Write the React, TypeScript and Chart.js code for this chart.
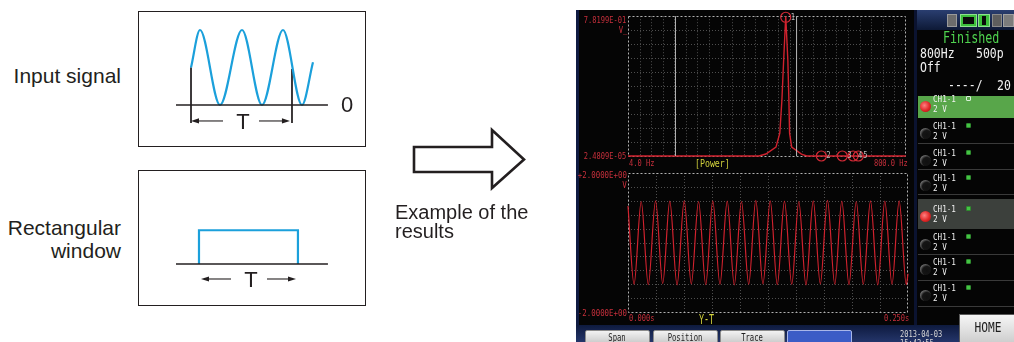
import React, { useEffect, useRef } from "react";
import { Chart, registerables } from "chart.js";
Chart.register(...registerables);

const W = 1014;
const H = 342;
const SANS = '"Liberation Sans", Arial, Helvetica, sans-serif';
const MONO = '"DejaVu Sans Mono", monospace';
const INK = "#231f20";
const BLUE = "#1ba0db";
const SCREEN_RED = "#d0222e";
const LABEL_RED = "#c8303c";
const YELLOW = "#d2d23c";

// ---------- left diagrams (x in units of the window length T, y in signal units) ----------
const signalX = [0, 0.089, 0.287, 0.505, 0.703, 0.911, 1.099, 1.208];
const signalY = [0.5, 1, 0, 1, 0, 1, 0, 0.57];
const baselineX = [-0.149, 1.356];
const periodMarkX = [0, 1];
const periodMarkTop = [0.5, 0.48];
const periodMarkBottom = -0.24;
const windowX = [0.079, 0.079, 1.059, 1.059];
const windowY = [0, 0.45, 0.45, 0];
const topArrows = [[0.317, 0], [0.673, 0.98]]; // [tail, head]
const topArrowY = -0.213;
const bottomArrows = [[0.396, 0.099], [0.752, 1.04]];
const bottomArrowY = -0.2;
const diagramXRange = [-0.525, 1.733];
const diagramYRange = [-0.56, 1.253];

// ---------- power spectrum ----------
const specFreq = [4, 379, 399, 428, 439, 445, 450, 456, 462, 465, 467, 473, 501, 516, 800];
const specPower = [2.4809e-5, 2.4809e-5, 0.011, 0.05, 0.128, 0.313, 0.536, 0.78199, 0.536, 0.313, 0.128, 0.05, 0.011, 2.4809e-5, 2.4809e-5];
const freqRange = [4, 800];
const powerRange = [2.4809e-5, 0.78199];
const markerFreq = [456, 558, 618, 649, 664];
const markerPower = [0.776, 2.4809e-5, 2.4809e-5, 2.4809e-5, 2.4809e-5];
const markerNames = ["1", "2", "3", "4", "5"];
const cursorFreq = [140, 487];
const powerTickLabels = ["7.8199E-01", "2.4809E-05"];
const freqTickLabels = ["4.0 Hz", "800.0 Hz"];

// ---------- time waveform ----------
const timeS = [0, 0.0054, 0.0118, 0.0181, 0.0246, 0.031, 0.0373, 0.0438, 0.0502, 0.0565, 0.063, 0.0694, 0.0757, 0.0821, 0.0886, 0.0949, 0.1013, 0.1078, 0.1141, 0.1205, 0.127, 0.1333, 0.1397, 0.1462, 0.1525, 0.1589, 0.1654, 0.1717, 0.1781, 0.1846, 0.1909, 0.1973, 0.2038, 0.2101, 0.2165, 0.223, 0.2293, 0.2357, 0.2421, 0.2485, 0.25];
const voltV = [1.05, -1.2, 1.18, -1.21, 1.2, -1.18, 1.19, -1.22, 1.2, -1.19, 1.18, -1.21, 1.2, -1.2, 1.19, -1.22, 1.18, -1.2, 1.21, -1.19, 1.2, -1.21, 1.19, -1.2, 1.18, -1.22, 1.2, -1.19, 1.21, -1.2, 1.19, -1.21, 1.18, -1.2, 1.2, -1.22, 1.19, -1.2, 1.2, -1.21, -0.9];
const timeRange = [0, 0.25];
const voltRange = [-2, 2];
const voltTickLabels = ["+2.0000E+00", "-2.0000E+00"];
const timeTickLabels = ["0.000s", "0.250s"];

// ---------- side panel ----------
const channelNames = ["CH1-1", "CH1-1", "CH1-1", "CH1-1", "CH1-1", "CH1-1", "CH1-1", "CH1-1"];
const channelRanges = ["2 V", "2 V", "2 V", "2 V", "2 V", "2 V", "2 V", "2 V"];
const buttonLabels = ["Span", "Position", "Trace", ""];

type Cfg = any;

function ChartCanvas({ left, top, width, height, make }: { left: number; top: number; width: number; height: number; make: () => Cfg }) {
  const ref = useRef<HTMLCanvasElement>(null);
  useEffect(() => {
    const chart = new Chart(ref.current as HTMLCanvasElement, make());
    return () => chart.destroy();
  }, []);
  return (
    <canvas
      ref={ref}
      width={width}
      height={height}
      style={{ position: "absolute", left, top, width, height }}
    />
  );
}

const lineDs = (data: any[], color: string, width: number, extra: any = {}) => ({
  type: "line",
  data,
  borderColor: color,
  backgroundColor: color,
  borderWidth: width,
  pointRadius: 0,
  fill: false,
  tension: 0,
  clip: false,
  ...extra,
});

function arrowPlugin(list: number[][], yv: number) {
  return {
    id: "arrows",
    afterDatasetsDraw(chart: any) {
      const { ctx, scales } = chart;
      const yy = scales.y.getPixelForValue(yv);
      ctx.save();
      ctx.strokeStyle = INK;
      ctx.fillStyle = INK;
      ctx.lineWidth = 1.1;
      for (const [tail, head] of list) {
        const x0 = scales.x.getPixelForValue(tail);
        const x1 = scales.x.getPixelForValue(head);
        const d = Math.sign(x1 - x0);
        ctx.beginPath();
        ctx.moveTo(x0, yy);
        ctx.lineTo(x1 - d * 6, yy);
        ctx.stroke();
        ctx.beginPath();
        ctx.moveTo(x1, yy);
        ctx.lineTo(x1 - d * 8, yy - 2.6);
        ctx.lineTo(x1 - d * 8, yy + 2.6);
        ctx.closePath();
        ctx.fill();
      }
      ctx.restore();
    },
  };
}

function diagramConfig(kind: "signal" | "window"): Cfg {
  const datasets: any[] = [lineDs(baselineX.map((x) => ({ x, y: 0 })), INK, 1.3)];
  if (kind === "signal") {
    datasets.push(
      lineDs(signalX.map((x, i) => ({ x, y: signalY[i] })), BLUE, 2.2, { cubicInterpolationMode: "monotone" })
    );
    periodMarkX.forEach((x, i) =>
      datasets.push(lineDs([{ x, y: periodMarkTop[i] }, { x, y: periodMarkBottom }], INK, 1))
    );
  } else {
    datasets.push(lineDs(windowX.map((x, i) => ({ x, y: windowY[i] })), BLUE, 2.2));
  }
  return {
    type: "line",
    data: { datasets },
    options: {
      animation: false,
      responsive: false,
      events: [],
      layout: { padding: 0 },
      plugins: { legend: { display: false }, tooltip: { enabled: false } },
      scales: {
        x: { type: "linear", display: false, min: diagramXRange[0], max: diagramXRange[1] },
        y: { type: "linear", display: false, min: diagramYRange[0], max: diagramYRange[1] },
      },
    },
    plugins: [kind === "signal" ? arrowPlugin(topArrows, topArrowY) : arrowPlugin(bottomArrows, bottomArrowY)],
  };
}

function screenFramePlugin(cols: number, rows: number) {
  return {
    id: "screenFrame",
    beforeDatasetsDraw(chart: any) {
      const { ctx, chartArea: a } = chart;
      ctx.save();
      ctx.lineWidth = 1;
      ctx.strokeStyle = "#4e4e4e";
      ctx.setLineDash([1, 2]);
      for (let i = 1; i < cols; i++) {
        const x = Math.round(a.left + ((a.right - a.left) * i) / cols) + 0.5;
        ctx.beginPath();
        ctx.moveTo(x, a.top);
        ctx.lineTo(x, a.bottom);
        ctx.stroke();
      }
      for (let j = 1; j < rows; j++) {
        const y = Math.round(a.top + ((a.bottom - a.top) * j) / rows) + 0.5;
        ctx.beginPath();
        ctx.moveTo(a.left, y);
        ctx.lineTo(a.right, y);
        ctx.stroke();
      }
      ctx.strokeStyle = "#b0b0b0";
      ctx.setLineDash([2, 2]);
      ctx.strokeRect(Math.round(a.left) + 0.5, Math.round(a.top) + 0.5, Math.round(a.right - a.left) - 1, Math.round(a.bottom - a.top));
      ctx.restore();
    },
  };
}

const markerLabelPlugin = {
  id: "markerLabels",
  afterDatasetsDraw(chart: any) {
    const { ctx } = chart;
    const idx = chart.data.datasets.findIndex((d: any) => d.label === "markers");
    if (idx < 0) return;
    const meta = chart.getDatasetMeta(idx);
    ctx.save();
    ctx.fillStyle = "#bdbdbd";
    ctx.font = '9px "DejaVu Sans Mono", monospace';
    ctx.textBaseline = "middle";
    meta.data.forEach((pt: any, i: number) => {
      ctx.save();
      ctx.translate(pt.x + 5, pt.y);
      ctx.scale(0.8, 1);
      ctx.fillText(markerNames[i], 0, 0);
      ctx.restore();
    });
    ctx.restore();
  },
};

const baseScreenOptions = (xr: number[], yr: number[], padding: any) => ({
  animation: false,
  responsive: false,
  events: [],
  layout: { padding },
  plugins: { legend: { display: false }, tooltip: { enabled: false } },
  scales: {
    x: { type: "linear", display: false, min: xr[0], max: xr[1] },
    y: { type: "linear", display: false, min: yr[0], max: yr[1] },
  },
});

function spectrumConfig(): Cfg {
  const datasets: any[] = [];
  cursorFreq.forEach((f) =>
    datasets.push(lineDs([{ x: f, y: powerRange[0] }, { x: f, y: powerRange[1] }], "#b9b9b9", 1))
  );
  datasets.push(lineDs(specFreq.map((x, i) => ({ x, y: specPower[i] })), SCREEN_RED, 1.4));
  datasets.push({
    type: "scatter",
    label: "markers",
    data: markerFreq.map((x, i) => ({ x, y: markerPower[i] })),
    pointStyle: "circle",
    pointRadius: 5,
    pointBorderWidth: 1.2,
    pointBorderColor: "#d42a36",
    pointBackgroundColor: "rgba(0,0,0,0)",
    showLine: false,
    clip: false,
  });
  return {
    type: "line",
    data: { datasets },
    options: baseScreenOptions(freqRange, powerRange, { left: 52, top: 6, right: 4, bottom: 14 }),
    plugins: [screenFramePlugin(24, 10), markerLabelPlugin],
  };
}

function timeConfig(): Cfg {
  return {
    type: "line",
    data: {
      datasets: [
        lineDs(timeS.map((x, i) => ({ x, y: voltV[i] })), SCREEN_RED, 1.2, { cubicInterpolationMode: "monotone" }),
      ],
    },
    options: baseScreenOptions(timeRange, voltRange, { left: 52, top: 3, right: 4, bottom: 14 }),
    plugins: [screenFramePlugin(10, 10)],
  };
}

type LP = { x: number; y: number; t: string; s: number; c: string; sx?: number; a?: "l" | "r" | "c"; f?: string };
function Lbl({ x, y, t, s, c, sx = 1, a = "l", f = MONO }: LP) {
  const style: React.CSSProperties = {
    position: "absolute",
    top: y - s / 2,
    fontSize: s,
    lineHeight: `${s}px`,
    color: c,
    fontFamily: f,
    whiteSpace: "pre",
  };
  if (a === "l") {
    style.left = x;
    style.transform = `scaleX(${sx})`;
    style.transformOrigin = "left center";
  } else if (a === "r") {
    style.right = W - x;
    style.transform = `scaleX(${sx})`;
    style.transformOrigin = "right center";
  } else {
    style.left = x;
    style.transform = `translateX(-50%) scaleX(${sx})`;
  }
  return <div style={style}>{t}</div>;
}

const abs = (l: number, t: number, w: number, h: number, extra: React.CSSProperties = {}): React.CSSProperties => ({
  position: "absolute",
  left: l,
  top: t,
  width: w,
  height: h,
  boxSizing: "border-box",
  ...extra,
});

const rowTops = [96, 120, 145, 171, 199, 231, 256, 282];
const rowHeights = [22, 24, 25, 24, 30, 24, 25, 25];
const rowText = [99, 126, 153, 178, 209, 237, 262, 288];
const rowBg = ["#58a64a", "", "", "", "#3c403c", "", "", ""];
const rowActive = [true, false, false, false, true, false, false, false];

export default function App() {
  return (
    <div style={{ position: "fixed", left: 0, top: 0, width: W, height: H, background: "#fff", overflow: "hidden" }}>
      {/* ----- left: input signal ----- */}
      <ChartCanvas left={138} top={11} width={228} height={136} make={() => diagramConfig("signal")} />
      <div style={abs(138, 11, 228, 136, { border: `1.5px solid ${INK}` })} />
      <Lbl x={121} y={75} t="Input signal" s={21} c={INK} f={SANS} a="r" />
      <Lbl x={347} y={105} t="0" s={22} c={INK} f={SANS} a="c" />
      <Lbl x={243} y={121.5} t="T" s={22} c={INK} f={SANS} a="c" />

      {/* ----- left: rectangular window ----- */}
      <ChartCanvas left={138} top={170} width={228} height={136} make={() => diagramConfig("window")} />
      <div style={abs(138, 170, 228, 136, { border: `1.5px solid ${INK}` })} />
      <Lbl x={121} y={227} t="Rectangular" s={21} c={INK} f={SANS} a="r" />
      <Lbl x={121} y={250} t="window" s={21} c={INK} f={SANS} a="r" />
      <Lbl x={251} y={280} t="T" s={22} c={INK} f={SANS} a="c" />

      {/* ----- big arrow ----- */}
      <svg style={{ position: "absolute", left: 0, top: 0 }} width={W} height={H}>
        <polygon
          points="414,147 492,147 492,130 524,159.5 492,188 492,172 414,172"
          fill="#fff"
          stroke={INK}
          strokeWidth={2.6}
          strokeLinejoin="miter"
        />
      </svg>
      <Lbl x={395} y={212} t="Example of the" s={20} c={INK} f={SANS} />
      <Lbl x={395} y={231} t="results" s={20} c={INK} f={SANS} />

      {/* ----- instrument screen ----- */}
      <div style={abs(576, 10, 438, 332, { background: "#050505" })} />
      <div style={abs(576, 10, 3, 332, { background: "#0f1b42" })} />
      <div style={abs(914, 10, 3, 315, { background: "#0b1330" })} />
      <div style={abs(917, 10, 97, 20, { background: "linear-gradient(#2a3e70, #0d1936)" })} />
      <div style={abs(576, 325, 438, 17, { background: "linear-gradient(#0e1a3e, #24356a)" })} />

      <ChartCanvas left={576} top={10} width={336} height={160} make={spectrumConfig} />
      <ChartCanvas left={576} top={170} width={336} height={156} make={timeConfig} />

      {/* spectrum labels */}
      <Lbl x={626} y={20} t={powerTickLabels[0]} s={9.5} c={LABEL_RED} sx={0.74} a="r" />
      <Lbl x={627} y={30} t="V_" s={9.5} c={LABEL_RED} sx={0.76} a="r" />
      <Lbl x={626} y={156} t={powerTickLabels[1]} s={9.5} c={LABEL_RED} sx={0.74} a="r" />
      <Lbl x={629} y={163} t={freqTickLabels[0]} s={9.5} c={LABEL_RED} sx={0.74} />
      <Lbl x={908} y={163} t={freqTickLabels[1]} s={9.5} c={LABEL_RED} sx={0.74} a="r" />
      <Lbl x={695} y={163} t="[Power]" s={11} c={YELLOW} sx={0.75} />

      {/* time labels */}
      <Lbl x={627} y={175} t={voltTickLabels[0]} s={9.5} c={LABEL_RED} sx={0.78} a="r" />
      <Lbl x={627} y={185} t="V" s={9.5} c={LABEL_RED} sx={0.8} a="r" />
      <Lbl x={627} y={313} t={voltTickLabels[1]} s={9.5} c={LABEL_RED} sx={0.78} a="r" />
      <Lbl x={629} y={318} t={timeTickLabels[0]} s={9.5} c={LABEL_RED} sx={0.74} />
      <Lbl x={909} y={318} t={timeTickLabels[1]} s={9.5} c={LABEL_RED} sx={0.74} a="r" />
      <Lbl x={699} y={319} t="Y-T" s={14} c={YELLOW} sx={0.6} />

      {/* bottom buttons */}
      {buttonLabels.map((b, i) => {
        const lefts = [585, 653, 720, 787];
        const blue = b === "";
        return (
          <div
            key={i}
            style={abs(lefts[i], 330, 65, 16, {
              background: blue ? "#3b5cc6" : "linear-gradient(#f2f2f2, #c4c4c4)",
              border: blue ? "1px solid #a8b6ea" : "1px solid #8a8a8a",
              borderRadius: 2,
            })}
          />
        );
      })}
      {buttonLabels.map((b, i) =>
        b ? <Lbl key={"t" + i} x={[617, 685, 752][i]} y={338} t={b} s={10} c="#1e1e1e" sx={0.72} a="c" /> : null
      )}
      <Lbl x={900} y={334} t="2013-04-03" s={9} c="#d6d6d6" sx={0.78} />
      <Lbl x={900} y={343} t="15:42:55" s={9} c="#d6d6d6" sx={0.78} />

      {/* side panel: top icons */}
      <div style={abs(947, 14, 10, 13, { background: "#6c6c6c", border: "1px solid #9a9a9a" })} />
      <div style={abs(960, 14, 17, 13, { background: "#3cbf3c", border: "1px solid #8ee08e" })} />
      <div style={abs(963, 17, 11, 7, { background: "#0a0a0a" })} />
      <div style={abs(978, 14, 12, 13, { background: "#3cbf3c", border: "1px solid #8ee08e" })} />
      <div style={abs(982, 16, 4, 9, { background: "#0a0a0a" })} />
      <div style={abs(992, 14, 10, 13, { background: "#5e5e5e", border: "1px solid #8a8a8a" })} />
      <div style={abs(1003, 14, 11, 13, { background: "#7c7c7c", border: "1px solid #a0a0a0" })} />

      <Lbl x={943} y={38} t="Finished" s={15} c="#4fd44f" sx={0.78} />
      <Lbl x={920} y={53} t="800Hz" s={14} c="#f0f0f0" sx={0.82} />
      <Lbl x={976} y={53} t="500p" s={14} c="#f0f0f0" sx={0.82} />
      <Lbl x={920} y={67} t="Off" s={14} c="#f0f0f0" sx={0.82} />
      <Lbl x={948} y={85} t="----/" s={14} c="#f0f0f0" sx={0.82} />
      <Lbl x={997} y={85} t="20" s={14} c="#f0f0f0" sx={0.82} />

      {/* channel rows */}
      {channelNames.map((n, i) => (
        <React.Fragment key={i}>
          <div
            style={abs(918, rowTops[i], 96, rowHeights[i], {
              background: rowBg[i] || "transparent",
              borderBottom: rowBg[i] ? "none" : "1px solid #3a3a3a",
            })}
          />
          <div
            style={abs(920, rowText[i] + 2, 11, 11, {
              borderRadius: "50%",
              background: rowActive[i]
                ? "radial-gradient(circle at 40% 40%, #ff8080 0%, #e02828 55%, #901010 100%)"
                : "radial-gradient(circle at 62% 62%, #101010 0%, #151515 45%, #9a9a9a 85%, #d0d0d0 100%)",
            })}
          />
          <Lbl x={933} y={rowText[i]} t={n} s={9.5} c="#f2f2f2" sx={0.8} />
          <Lbl x={933} y={rowText[i] + 10} t={channelRanges[i]} s={9.5} c="#f2f2f2" sx={0.8} />
          <div
            style={abs(966, rowText[i] - 3, 5, 5, {
              borderRadius: 1,
              background: i === 0 ? "#5aa84c" : "#44c444",
              border: i === 0 ? "1px solid #d8f0d8" : "1px solid #2e8a2e",
            })}
          />
        </React.Fragment>
      ))}

      {/* HOME */}
      <div style={abs(959, 314, 56, 30, { background: "linear-gradient(#f6f6f6, #cdcdcd)", border: "1px solid #5a5a5a" })} />
      <Lbl x={988} y={327} t="HOME" s={14} c="#1e1e1e" sx={0.8} a="c" />
    </div>
  );
}
